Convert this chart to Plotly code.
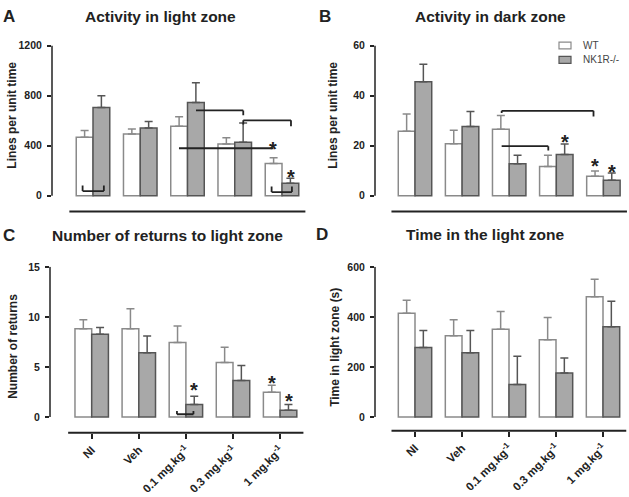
import plotly.graph_objects as go

W, H = 629, 497

# ---------------- data ----------------
categories = ["NI", "Veh", "0.1 mg.kg<sup>-1</sup>", "0.3 mg.kg<sup>-1</sup>", "1 mg.kg<sup>-1</sup>"]
series_names = ["WT", "NK1R-/-"]

A_wt = [467, 493, 554, 414, 258]
A_wt_sem = [53, 40, 76, 48, 45]
A_nk = [704, 541, 744, 427, 100]
A_nk_sem = [95, 52, 158, 153, 40]

B_wt = [25.7, 20.8, 26.5, 11.7, 7.8]
B_wt_sem = [6.9, 5.3, 5.5, 4.5, 2.1]
B_nk = [45.5, 27.6, 12.8, 16.5, 6.2]
B_nk_sem = [7.0, 6.0, 3.4, 4.2, 2.9]

C_wt = [8.82, 8.82, 7.43, 5.43, 2.47]
C_wt_sem = [0.88, 1.98, 1.65, 1.54, 0.69]
C_nk = [8.26, 6.41, 1.25, 3.65, 0.66]
C_nk_sem = [0.69, 1.68, 0.82, 1.48, 0.59]

D_wt = [414, 325, 351, 309, 480]
D_wt_sem = [52, 63, 70, 88, 70]
D_nk = [278, 257, 130, 176, 361]
D_nk_sem = [68, 89, 113, 60, 101]

A_ticks = [0, 400, 800, 1200]
B_ticks = [0, 20, 40, 60]
C_ticks = [0, 5, 10, 15]
D_ticks = [0, 200, 400, 600]

titles = ["Activity in light zone", "Activity in dark zone",
          "Number of returns to light zone", "Time in the light zone"]
letters = ["A", "B", "C", "D"]
ytitles = ["Lines per unit time", "Lines per unit time", "Number of returns", "Time in light zone (s)"]

# significance marks (category index, value)
A_brackets = [  # list of polylines
    [(-0.22, 81), (-0.22, 37), (0.23, 37), (0.23, 81)],
    [(2.18, 681), (3.18, 681), (3.18, 642)],
    [(3.18, 568), (3.18, 602), (4.19, 602), (4.19, 555)],
    [(1.82, 379), (3.82, 379)],
    [(3.78, 73), (3.78, 29), (4.21, 29), (4.21, 73)],
]
A_stars = [(3.82, 410), (4.18, 187)]
B_brackets = [
    [(1.84, 33.0), (1.84, 33.9), (3.79, 33.9), (3.79, 31.6)],
    [(1.84, 19.8), (2.83, 19.8), (2.83, 18.1)],
]
B_stars = [(3.18, 23.3), (3.82, 13.9), (4.18, 11.5)]
C_brackets = [
    [(1.81, 0.59), (1.81, 0.27), (2.16, 0.27), (2.16, 0.59)],
]
C_stars = [(2.18, 3.16), (3.82, 3.88), (4.18, 2.07)]
D_brackets = []
D_stars = []

# ---------------- layout geometry (pixels) ----------------
panels = [
    dict(data=(A_wt, A_wt_sem, A_nk, A_nk_sem), ticks=A_ticks, brackets=A_brackets, stars=A_stars,
         yax_px=52, c0=93.0, step=47.25, top_px=40, zero_px=192, line_px=208, labels=False,
         title_xy=(160, 11), letter_xy=(9, 11), ytitle_xy=(12, 111)),
    dict(data=(B_wt, B_wt_sem, B_nk, B_nk_sem), ticks=B_ticks, brackets=B_brackets, stars=B_stars,
         yax_px=375, c0=415.0, step=47.1, top_px=40, zero_px=192, line_px=208, labels=False,
         title_xy=(490, 11), letter_xy=(325, 11), ytitle_xy=(333, 111)),
    dict(data=(C_wt, C_wt_sem, C_nk, C_nk_sem), ticks=C_ticks, brackets=C_brackets, stars=C_stars,
         yax_px=50, c0=91.7, step=47.1, top_px=264, zero_px=416, line_px=432, labels=True,
         title_xy=(167, 232), letter_xy=(9, 232), ytitle_xy=(13, 345)),
    dict(data=(D_wt, D_wt_sem, D_nk, D_nk_sem), ticks=D_ticks, brackets=D_brackets, stars=D_stars,
         yax_px=375, c0=415.0, step=47.0, top_px=264, zero_px=416, line_px=430, labels=True,
         title_xy=(485, 231), letter_xy=(322, 231), ytitle_xy=(335, 346)),
]

FONT = "Arial, Liberation Sans, sans-serif"
wt_fill, wt_line = "#ffffff", "#8a8a8a"
nk_fill, nk_line = "#a8a8a8", "#555555"

fig = go.Figure()
shapes = []
annotations = []
layout = {}

for i, p in enumerate(panels):
    n = "" if i == 0 else str(i + 1)
    xa, ya = "x" + n, "y" + n
    wt, wt_sem, nk, nk_sem = p["data"]
    for name, vals, sem, fill, lc in [(series_names[0], wt, wt_sem, wt_fill, wt_line),
                                      (series_names[1], nk, nk_sem, nk_fill, nk_line)]:
        fig.add_trace(go.Bar(
            x=categories, y=vals, name=name, xaxis=xa, yaxis=ya, showlegend=False,
            marker=dict(color=fill, line=dict(color=lc, width=1.5)),
            error_y=dict(type="data", array=sem, arrayminus=[0] * len(sem), symmetric=False,
                         color=lc, thickness=1.5, width=4),
        ))
    ymax = p["ticks"][-1]
    scale = ymax / (p["zero_px"] - p["top_px"])
    ymin = -(p["line_px"] - p["zero_px"]) * scale
    xleft = (p["yax_px"] - p["c0"]) / p["step"]
    xright_px = p["c0"] + 4.5 * p["step"]
    layout["xaxis" + n] = dict(
        domain=[p["yax_px"] / W, xright_px / W], anchor=ya, range=[xleft, 4.5],
        type="category", showgrid=False, zeroline=False, showline=False,
        showticklabels=p["labels"], ticks="outside" if p["labels"] else "",
        ticklen=5, tickwidth=1.5, tickcolor="#222", tickangle=-45,
        tickfont=dict(family=FONT, size=11.5, color="#222", weight="bold"),
    )
    layout["yaxis" + n] = dict(
        domain=[1 - p["line_px"] / H, 1 - p["top_px"] / H], anchor=xa, range=[ymin, ymax],
        tickvals=p["ticks"], ticks="outside", ticklen=4, tickwidth=1.5, tickcolor="#222",
        showgrid=False, zeroline=False, showline=False, ticklabelstandoff=3,
        tickfont=dict(family=FONT, size=10.5, color="#222", weight="bold"),
    )
    # y axis line (0..max)
    shapes.append(dict(type="line", xref=xa + " domain", yref=ya, x0=0, x1=0, y0=0, y1=ymax,
                       line=dict(color="#222", width=1.5)))
    # detached x axis line
    shapes.append(dict(type="line", xref=xa, yref=ya + " domain", x0=-0.5, x1=4.5, y0=0, y1=0,
                       line=dict(color="#222", width=2)))
    for poly in p["brackets"]:
        for (x0, y0), (x1, y1) in zip(poly[:-1], poly[1:]):
            shapes.append(dict(type="line", xref=xa, yref=ya, x0=x0, x1=x1, y0=y0, y1=y1,
                               line=dict(color="#222", width=1.8)))
    for sx, sy in p["stars"]:
        annotations.append(dict(x=sx, y=sy, xref=xa, yref=ya, text="<b>*</b>", showarrow=False,
                                font=dict(family=FONT, size=20, color="#222"), yshift=-5))
    tx, ty = p["title_xy"]
    annotations.append(dict(x=tx / W, y=1 - ty / H, xref="paper", yref="paper", text="<b>" + titles[i] + "</b>",
                            showarrow=False, font=dict(family=FONT, size=15.5, color="#222"),
                            xanchor="center", yanchor="middle"))
    lx, ly = p["letter_xy"]
    annotations.append(dict(x=lx / W, y=1 - ly / H, xref="paper", yref="paper", text="<b>" + letters[i] + "</b>",
                            showarrow=False, font=dict(family=FONT, size=17, color="#222"),
                            xanchor="center", yanchor="middle"))
    yx, yy = p["ytitle_xy"]
    annotations.append(dict(x=yx / W, y=1 - yy / H, xref="paper", yref="paper", text="<b>" + ytitles[i] + "</b>",
                            showarrow=False, textangle=-90, font=dict(family=FONT, size=12, color="#222"),
                            xanchor="center", yanchor="middle"))

# legend (manual, top right of panel B)
for k, (fill, lc, ypx) in enumerate([(wt_fill, wt_line, 40), (nk_fill, nk_line, 54.5)]):
    shapes.append(dict(type="rect", xref="paper", yref="paper", x0=559 / W, x1=571 / W,
                       y0=1 - (ypx + 3.5) / H, y1=1 - (ypx - 3.5) / H,
                       fillcolor=fill, line=dict(color=lc, width=1.2)))
    annotations.append(dict(x=581 / W, y=1 - ypx / H, xref="paper", yref="paper", text=series_names[k],
                            showarrow=False, xanchor="left", yanchor="middle",
                            font=dict(family=FONT, size=10, color="#444")))

fig.update_layout(
    width=W, height=H, margin=dict(l=0, r=0, t=0, b=0),
    paper_bgcolor="white", plot_bgcolor="white",
    barmode="group", bargap=0.29, bargroupgap=0,
    shapes=shapes, annotations=annotations, showlegend=False,
    **layout,
)

fig.write_html("out.html", config={"displayModeBar": False},
               post_script="document.body.style.margin='0';document.body.style.overflow='hidden';")
